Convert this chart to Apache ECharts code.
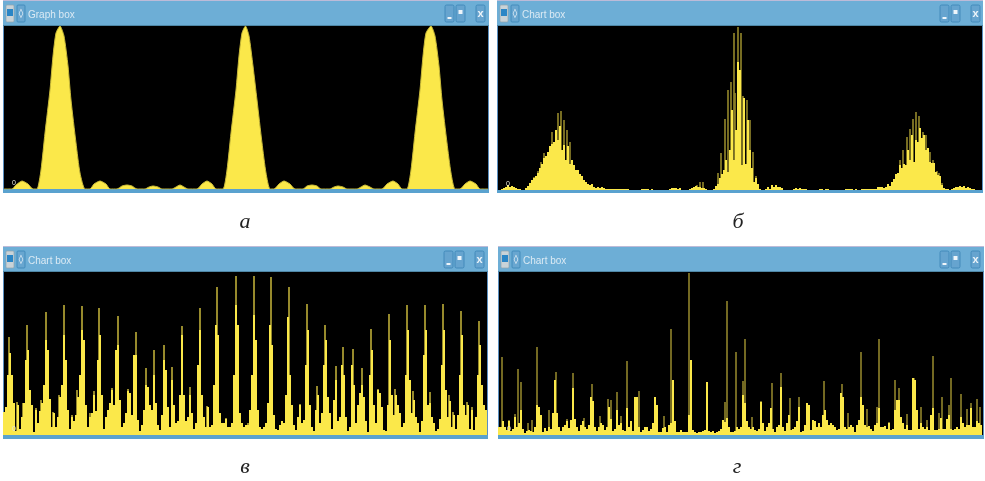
<!DOCTYPE html>
<html><head><meta charset="utf-8">
<style>html,body{margin:0;padding:0;background:#fff}#c{width:985px;height:481px}</style>
<script src="https://cdn.jsdelivr.net/npm/echarts@6/dist/echarts.min.js"></script>
</head><body><div id="c"></div>
<script>
const captions = ['а','б','в','г'];
const windowTitles = ['Graph box','Chart box','Chart box','Chart box'];

const aPos = [0,8,12,18,24,29,33,37,41,46,49,52,56,60,64,67,72,76,81,86,90,96,102,106,113,118,123,128,133,141,145,149,154,158,168,172,176,180,184,193,198,203,208,212,219,223,227,232,235,238,241.5,245,249,253,258,262,266,270,275,280,286,291,299,303,308,313,317,326,330,334,339,343,353,357,361,366,370,378,383,389,394,398,403,407,411,416,419,422,427,431,435,438,443,447,451,456,461,466,472,476,484];
const aVal = [0,0,4,8,5,0,0,19,56,99,133,156,163,153,123,89,46,16,0,0,5,8,5,0,0,3,4,3,0,0,2,3,2,0,0,2,4,2,0,0,5,8,5,0,0,19,56,99,133,156,163,153,123,89,46,16,0,0,5,8,5,0,0,3,4,3,0,0,2,3,2,0,0,2,4,2,0,0,5,8,5,0,0,19,56,99,133,156,163,153,123,89,46,16,0,0,5,8,5,0,0];

const bBody = [
0,0,1,2,3,5,3,4,3,2,1,1,0,0,2,4,7,10,12,14,
17,22,26,32,34,38,44,46,48,60,50,64,40,45,30,44,26,30,25,20,
20,16,14,10,8,6,5,6,3,2,3,2,3,2,1,1,1,1,1,1,
1,1,1,1,1,1,0,0,0,0,0,0,1,1,1,1,0,1,0,0,
0,0,0,0,0,0,1,2,2,2,1,2,0,0,0,0,1,2,3,4,
3,3,2,2,1,0,0,0,1,4,6,12,16,20,30,18,40,80,30,60,
128,120,25,92,26,70,40,22,8,12,6,1,0,0,1,3,1,5,3,5,
3,3,2,0,0,0,0,0,1,2,1,2,1,1,1,0,0,0,0,0,
0,1,1,0,1,1,0,0,0,0,0,0,0,0,1,1,1,1,0,1,
0,0,1,1,1,1,1,1,1,1,3,3,3,2,3,6,4,8,11,16,
17,25,22,26,25,40,30,55,28,50,48,62,52,55,40,42,28,27,27,18,
15,14,5,2,1,1,0,1,2,3,3,4,3,4,2,3,2,1,1,0,
0,0];
const bTipPos = [36,40,43,46,54,60,63,66,69,72,199,202,205,220,223,227,230,233,236,237,240,243,245,249,252,255,258,402,405,409,412,415,418,421,425,428,432,435,439,441,444];
const bTipVal = [13,19,28,37,58,77,79,70,60,48,5,8,8,17,37,71,100,108,157,97,163,157,94,90,70,38,14,30,40,53,61,71,78,74,58,55,38,30,19,17,7];

const cBody = [
23,28,60,82,60,32,4,30,6,18,32,75,85,45,30,3,25,12,24,32,
50,95,85,36,8,22,8,18,38,50,100,75,25,6,18,14,20,38,60,105,
95,30,8,18,22,40,24,75,100,40,6,18,25,32,45,30,85,90,35,8,
12,22,44,42,20,80,80,15,4,10,25,50,48,30,25,60,32,10,5,20,
75,65,28,8,55,30,12,14,40,100,40,14,18,40,22,6,12,70,105,40,
18,8,28,8,10,50,110,100,22,12,12,16,8,8,12,60,130,110,22,12,
8,10,10,25,60,120,95,25,8,6,8,12,32,110,90,20,6,5,10,14,
12,40,118,60,30,10,5,18,30,12,15,70,105,30,8,4,25,40,12,22,
70,95,38,22,6,35,55,14,18,70,60,18,4,8,70,50,12,30,42,50,
38,14,3,60,85,30,12,45,42,28,5,4,30,95,40,20,40,30,22,8,
12,60,105,55,22,35,18,12,3,14,80,105,30,32,18,12,4,6,16,70,
105,45,18,34,8,20,6,20,60,100,30,20,30,6,25,5,18,60,90,50,
30,25];
const cTipPos = [5,23,42,60,78,95,114,132,142,150,160,168,178,196,213,232,13,19,32,37,49,55,68,73,86,90,108,124,186,203,222,244,250,267,285,303,321,332,339,349,358,367,385,403,421,439,457,475,296,313,374,391,409,426,445,463,468,480,449];
const cTipVal = [98,110,123,130,129,127,119,103,67,85,90,68,109,127,148,159,33,32,27,35,23,40,20,45,22,44,47,46,48,29,17,12,159,158,148,131,110,69,88,86,67,106,121,130,130,131,124,114,31,49,46,46,44,43,40,33,28,30,23];

const dBody = [
8,8,14,8,5,14,4,6,18,8,12,25,6,2,4,5,4,3,8,30,
28,20,3,7,4,8,6,22,55,22,8,4,8,10,14,7,15,47,16,8,
4,10,14,8,6,10,38,34,8,4,8,12,10,5,8,28,16,4,6,25,
10,12,5,4,27,8,14,4,38,38,8,3,5,8,8,4,6,12,38,30,
3,3,7,8,3,10,12,55,14,3,3,5,3,3,3,20,75,5,3,2,
3,3,4,5,53,4,3,4,2,3,4,6,15,13,17,8,3,3,4,8,
6,8,40,32,14,8,6,8,5,4,6,33,12,4,8,12,27,6,3,8,
10,48,8,4,12,20,5,6,8,14,28,3,4,10,32,30,5,15,14,8,
12,8,20,25,15,10,12,10,8,5,6,42,38,8,6,8,10,8,3,10,
15,38,30,10,8,9,6,4,10,12,27,8,8,9,6,12,5,6,25,35,
35,18,12,6,10,5,5,57,55,25,6,12,8,6,8,5,20,27,5,5,
6,17,6,6,16,20,6,5,6,8,6,18,12,8,10,10,27,8,8,14,
12,10];
const dTipPos = [3,19,22,38,57,50,74,93,109,112,128,118,140,190,172,228,226,165,16,10,29,33,68,85,101,122,237,244,246,262,253,282,273,291,300,308,325,343,349,362,368,378,380,390,396,400,408,415,422,428,434,440,443,450,452,462,468,472,478,481];
const dTipVal = [78,66,53,88,63,25,62,51,36,35,74,43,44,162,106,134,33,19,21,15,12,15,16,17,19,19,83,54,96,34,18,62,52,37,38,17,54,51,22,83,26,28,96,13,55,47,21,57,28,15,79,22,38,30,57,41,26,32,36,28];

const BODY = '#fbe84a';
const panels = [
 {x:3,  w:486, top:1,  split:26,  base:189, bot:193, px:4,  ph:163, label:[245,222], icons:[445,456,476]},
 {x:497,w:486, top:1,  split:26,  base:190, bot:193, px:498,ph:164, label:[738,222], icons:[940,951,971]},
 {x:3,  w:485, top:247,split:272, base:435, bot:439, px:4,  ph:163, label:[245,467], icons:[444,455,475]},
 {x:498,w:486, top:247,split:272, base:435, bot:439, px:499,ph:163, label:[737,467], icons:[940,951,971]}
];

const grid=[], xAxis=[], yAxis=[], series=[], graphic=[];
panels.forEach((p,i)=>{
  graphic.push({type:'rect',silent:true,z:0,shape:{x:p.x,y:p.top,width:p.w,height:p.split-p.top},style:{fill:'#6daed6'}});
  graphic.push({type:'rect',silent:true,z:1,shape:{x:p.x,y:p.top-1,width:p.w,height:1},style:{fill:'#bdbbd8'}});
  graphic.push({type:'rect',silent:true,z:1,shape:{x:p.x,y:p.base,width:p.w,height:p.bot-p.base},style:{fill:'#5aa2cf'}});
  graphic.push({type:'rect',silent:true,z:1,shape:{x:p.x,y:p.split-1,width:p.w,height:1},style:{fill:'#4f87a6'}});
  graphic.push({type:'rect',silent:true,z:1,shape:{x:p.x,y:p.split,width:1,height:p.base-p.split},style:{fill:'#5a8fc0'}});
  graphic.push({type:'rect',silent:true,z:1,shape:{x:p.x+p.w-1,y:p.split,width:1,height:p.base-p.split},style:{fill:'#5a8fc0'}});
  const wy=p.top+4;
  graphic.push({type:'rect',silent:true,z:2,shape:{x:p.x+3,y:wy,width:8,height:17,r:1},style:{fill:'#c9d3d8',stroke:'#8fa3ae',lineWidth:.7}});
  graphic.push({type:'rect',silent:true,z:3,shape:{x:p.x+4,y:wy+4,width:6,height:7},style:{fill:'#2b86c6'}});
  graphic.push({type:'rect',silent:true,z:2,shape:{x:p.x+14,y:wy,width:8,height:17,r:1},style:{fill:'#68a6d0',stroke:'#3a85b6',lineWidth:.8}});
  graphic.push({type:'text',silent:true,z:3,style:{x:p.x+18,y:wy+9,text:'◊',fill:'#fff',font:'9px "DejaVu Sans"',align:'center',verticalAlign:'middle'}});
  graphic.push({type:'text',silent:true,z:3,style:{x:p.x+25,y:wy+10,text:windowTitles[i],fill:'#dbeaf4',font:'10px "Liberation Sans Narrow","Liberation Sans"',verticalAlign:'middle'}});
  p.icons.forEach((bx,k)=>{
    graphic.push({type:'rect',silent:true,z:2,shape:{x:bx,y:wy,width:9,height:17,r:1.5},style:{fill:'#66a4cf',stroke:'#3b84b5',lineWidth:.8}});
    if(k===2){
      graphic.push({type:'text',silent:true,z:3,style:{x:bx+4.5,y:wy+9,text:'x',fill:'#eef5fa',font:'bold 11px "Liberation Sans"',align:'center',verticalAlign:'middle'}});
    } else {
      graphic.push({type:'rect',silent:true,z:3,shape:k===0?{x:bx+2.5,y:wy+12,width:4,height:2}:{x:bx+2.5,y:wy+5,width:4,height:4},style:{fill:'#eef5fa'}});
    }
  });
  graphic.push({type:'text',silent:true,z:5,style:{x:p.px+8,y:p.base-6,text:'0',fill:'#e6e6d8',font:'7px "Liberation Sans"',align:'left',verticalAlign:'middle'}});
  graphic.push({type:'text',silent:true,z:5,style:{x:p.label[0],y:p.label[1],text:captions[i],fill:'#222',font:'italic 22px "Liberation Serif"',align:'center',verticalAlign:'middle'}});

  grid.push({left:p.px,width:484,top:p.base-p.ph,height:p.ph,show:true,backgroundColor:'#000',borderWidth:0,containLabel:false});
  const ax={type:'value',min:0,max:484,gridIndex:i,show:false};
  xAxis.push(ax,Object.assign({},ax));
  yAxis.push({type:'value',min:0,max:p.ph,gridIndex:i,show:false});
});

const xa=i=>i*2;
series.push({type:'line',xAxisIndex:xa(0),yAxisIndex:0,z:3,smooth:0.2,symbol:'none',
  data:aPos.map((x,k)=>[x,aVal[k]]),lineStyle:{color:'#c9ba3a',width:1},areaStyle:{color:BODY,opacity:1}});

[[1,bBody,bTipPos,bTipVal,1.7,'#8c8029'],[2,cBody,cTipPos,cTipVal,1.8,'#a89a32'],[3,dBody,dTipPos,dTipVal,1.5,'#9a8d2e']].forEach(([i,body,tp,tv,tw,col])=>{
  series.push({type:'bar',xAxisIndex:xa(i)+1,yAxisIndex:i,z:2,barWidth:tw,itemStyle:{color:col},
    data:tp.map((x,k)=>[x,tv[k]]),animation:false});
  series.push({type:'bar',xAxisIndex:xa(i),yAxisIndex:i,z:3,barWidth:2,itemStyle:{color:BODY},
    data:body.map((v,k)=>[k*2,v]),animation:false});
});

const chart=echarts.init(document.getElementById('c'),null,{renderer:'canvas'});
chart.setOption({animation:false,backgroundColor:'#fff',grid,xAxis,yAxis,series,graphic:{elements:graphic}});
</script></body></html>
